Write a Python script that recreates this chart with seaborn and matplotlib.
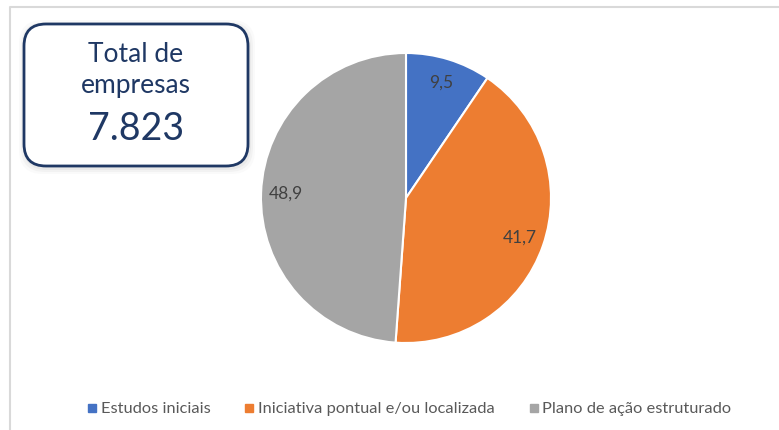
import numpy as np
import seaborn as sns
import matplotlib.pyplot as plt
from matplotlib.patches import FancyBboxPatch
from matplotlib.lines import Line2D

categories = ['Estudos iniciais', 'Iniciativa pontual e/ou localizada', 'Plano de ação estruturado']
values = [9.5, 41.7, 48.9]
value_labels = ['9,5', '41,7', '48,9']
total_title = 'Total de\nempresas'
total_value = '7.823'

sns.set_theme(style="white")
plt.rcParams['font.family'] = ['Lato', 'DejaVu Sans']
colors = ['#4472C4', '#ED7D31', '#A5A5A5']
navy = '#1F3864'

W, H = 779, 430
fig = plt.figure(figsize=(W / 100, H / 100), dpi=100)

# overlay in pixel coords for frame + text box
bg = fig.add_axes([0, 0, 1, 1])
bg.set_xlim(0, W)
bg.set_ylim(H, 0)
bg.axis('off')
bg.plot([10.5, 10.5, W], [H, 6.5, 6.5], color='#d9d9d9', lw=1.5, solid_capstyle='butt')

# shadow of the box
for off, a in [(7, 0.04), (5, 0.06), (3, 0.08)]:
    bg.add_patch(FancyBboxPatch((24 - off + 2, 24 - off + 3), 224 + 2 * off - 2, 142 + 2 * off - 2,
                                boxstyle="round,pad=0,rounding_size=24", fc='#808080', ec='none', alpha=a))
bg.add_patch(FancyBboxPatch((24, 24), 224, 142, boxstyle="round,pad=0,rounding_size=22",
                            fc='white', ec=navy, lw=2))
bg.text(136, 70, total_title, ha='center', va='center', color=navy, fontsize=19, linespacing=1.33)
bg.text(136, 129, total_value, ha='center', va='center', color=navy, fontsize=27)

# pie
cx, cy, r = 406, 198, 145
ax = fig.add_axes([(cx - r) / W, (H - cy - r) / H, 2 * r / W, 2 * r / H])
wedges, _ = ax.pie(values, colors=colors, startangle=90, counterclock=False,
                   wedgeprops=dict(edgecolor='white', linewidth=1.5))
ax.set_xlim(-1, 1)
ax.set_ylim(-1, 1)
for w, lab in zip(wedges, value_labels):
    ang = np.deg2rad((w.theta1 + w.theta2) / 2)
    ax.text(0.83 * np.cos(ang), 0.83 * np.sin(ang), lab, ha='center', va='center',
            color='#404040', fontsize=12.5)

handles = [Line2D([], [], marker='s', ls='none', color=c, markersize=5.5) for c in colors]
fig.legend(handles, categories, loc='center', bbox_to_anchor=(410 / W, 1 - 409 / H), ncol=3,
           frameon=False, fontsize=11.8, handlelength=0.45, handletextpad=0.3,
           columnspacing=2.15, labelcolor='#595959')

fig.savefig('out.png', dpi=100, facecolor='white')
